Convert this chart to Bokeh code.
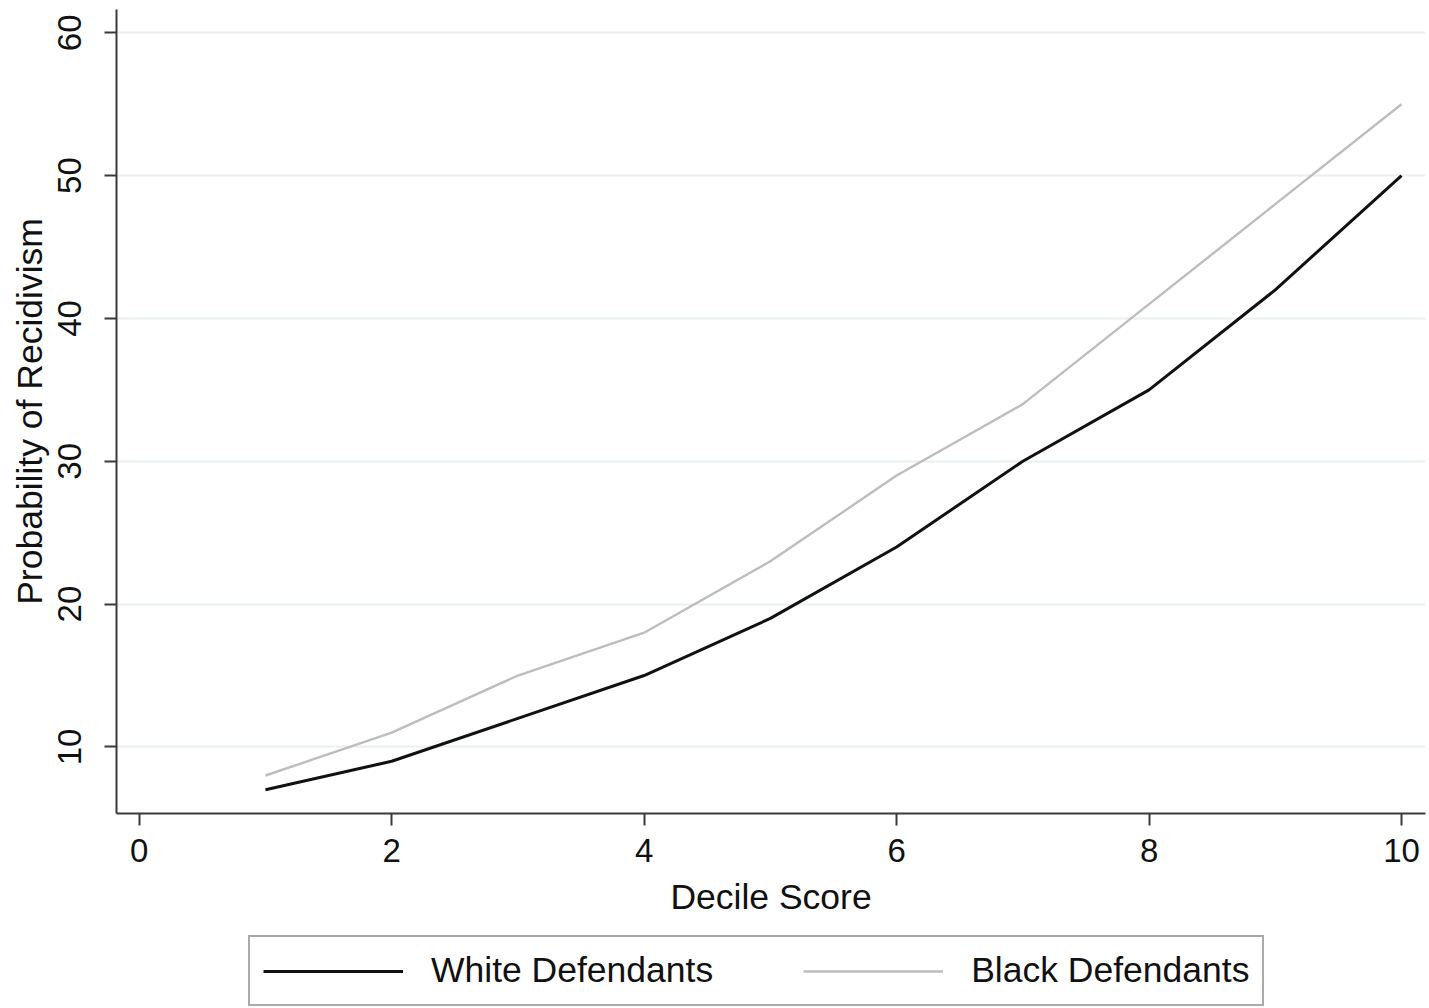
from bokeh.plotting import figure
from bokeh.models import Range1d, FixedTicker, Legend, LegendItem
from bokeh.layouts import column
from bokeh.embed import file_html
from bokeh.resources import INLINE

decile = [1, 2, 3, 4, 5, 6, 7, 8, 9, 10]
white_defendants = [7, 9, 12, 15, 19, 24, 30, 35, 42, 50]
black_defendants = [8, 11, 15, 18, 23, 29, 34, 41, 48, 55]
x_ticks = [0, 2, 4, 6, 8, 10]
y_ticks = [10, 20, 30, 40, 50, 60]

FONT = "Liberation Sans"
AXC = "#3a3a3a"
TXT = "#111111"
WHITE_C = "#111111"
BLACK_C = "#bdbdbd"

p = figure(width=1429, height=925, output_backend="svg", toolbar_location=None,
           x_range=Range1d(-0.18, 10.19), y_range=Range1d(5.34, 61.63),
           min_border_left=116, min_border_right=4, min_border_top=9, min_border_bottom=112)
p.outline_line_color = None
p.background_fill_color = "white"
p.border_fill_color = "white"

r_white = p.line(decile, white_defendants, line_color=WHITE_C, line_width=3)
r_black = p.line(decile, black_defendants, line_color=BLACK_C, line_width=2.4)

p.xgrid.visible = False
p.ygrid.ticker = FixedTicker(ticks=y_ticks)
p.ygrid.grid_line_color = "#eaeff1"
p.ygrid.grid_line_width = 2

for ax in (p.xaxis[0], p.yaxis[0]):
    ax.axis_line_color = AXC
    ax.axis_line_width = 2
    ax.major_tick_line_color = AXC
    ax.major_tick_line_width = 2
    ax.major_tick_out = 12
    ax.major_tick_in = 0
    ax.minor_tick_line_color = None
    ax.major_label_text_font = FONT
    ax.major_label_text_font_size = "33px"
    ax.major_label_text_color = TXT
    ax.axis_label_text_font = FONT
    ax.axis_label_text_font_size = "35.5px"
    ax.axis_label_text_font_style = "normal"
    ax.axis_label_text_color = TXT

p.xaxis.ticker = FixedTicker(ticks=x_ticks)
p.yaxis.ticker = FixedTicker(ticks=y_ticks)
p.xaxis.axis_label = "Decile Score"
p.yaxis.axis_label = "Probability of Recidivism"
p.yaxis.major_label_orientation = "vertical"
p.xaxis.major_label_standoff = 13
p.xaxis.axis_label_standoff = 12
p.yaxis.major_label_standoff = 23
p.yaxis.axis_label_standoff = 6

# legend panel: same series, drawn outside this panel's visible range
leg = figure(width=1429, height=83, output_backend="svg", toolbar_location=None,
             x_range=Range1d(100, 101), y_range=Range1d(100, 101),
             min_border_left=0, min_border_right=0, min_border_top=0, min_border_bottom=0)
leg.axis.visible = False
leg.grid.visible = False
leg.outline_line_color = None
lw = leg.line(decile, white_defendants, line_color=WHITE_C, line_width=3)
lb = leg.line(decile, black_defendants, line_color=BLACK_C, line_width=2.4)

legend = Legend(items=[LegendItem(label="White Defendants", renderers=[lw]),
                       LegendItem(label="Black Defendants", renderers=[lb])],
                orientation="horizontal", location=(132, 2),
                glyph_width=140, glyph_height=30, label_height=30,
                label_standoff=28, spacing=90, padding=13, margin=0,
                label_text_font=FONT, label_text_font_size="35.5px", label_text_color=TXT,
                border_line_color="#555555", border_line_width=2,
                background_fill_color="white")
leg.add_layout(legend, "center")

open("out.html", "w").write(file_html(column(p, leg, spacing=0), INLINE))
